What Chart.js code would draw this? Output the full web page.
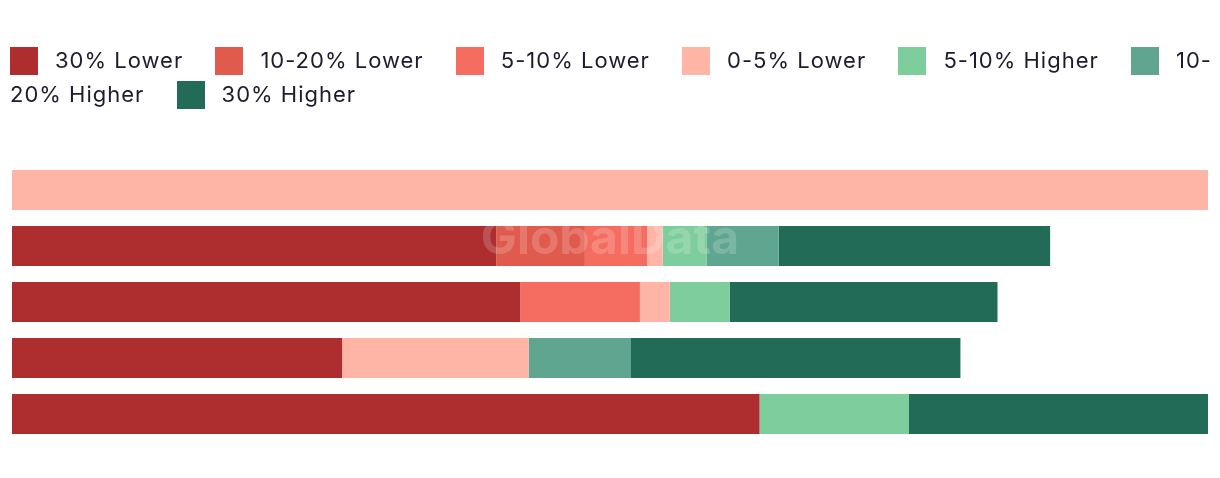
<!DOCTYPE html>
<html>
<head>
<meta charset="utf-8">
<script src="https://cdn.jsdelivr.net/npm/chart.js@4"></script>
<style>
    html, body { margin: 0; padding: 0; background: #fff; }
    #wrap { position: relative; width: 1220px; height: 478px; overflow: hidden; }
    #legend {
        position: absolute; left: 10px; top: 43px; width: 1210px;
        font-family: Inter, sans-serif; font-size: 22px; line-height: 34px;
        letter-spacing: 1px; color: #1c1c2e; z-index: 2;
    }
    #legend .sw {
        display: inline-block; width: 28px; height: 28px;
        vertical-align: middle; margin-right: 17px; position: relative; top: -1px;
    }
    #legend .it { margin-right: 25px; }
    #chartBox { position: absolute; left: 0; top: 0; width: 1220px; height: 478px; }
</style>
</head>
<body>
<div id="wrap">
    <div id="legend"></div>
    <div id="chartBox"><canvas id="chart"></canvas></div>
</div>
<script>
    // rows top to bottom
    const categories = ['Row 1', 'Row 2', 'Row 3', 'Row 4', 'Row 5']

    const seriesNames = ['30% Lower', '10-20% Lower', '5-10% Lower', '0-5% Lower', '5-10% Higher', '10-20% Higher', '30% Higher']
    const seriesColors = ['#ae2d2f', '#e05a4e', '#f46d60', '#ffb5a6', '#7ecd9c', '#5fa58f', '#216b57']

    const lower30 = [0, 40.5, 42.5, 27.6, 62.5]
    const lower10to20 = [0, 7.4, 0, 0, 0]
    const lower5to10 = [0, 5.2, 10.0, 0, 0]
    const lower0to5 = [100, 1.3, 2.5, 15.6, 0]
    const higher5to10 = [0, 3.7, 5.0, 0, 12.5]
    const higher10to20 = [0, 6.0, 0, 8.5, 0]
    const higher30 = [0, 22.7, 22.4, 27.6, 25.0]

    const seriesValues = [lower30, lower10to20, lower5to10, lower0to5, higher5to10, higher10to20, higher30]

    const watermark = {
        id: 'watermark',
        afterDatasetsDraw(chart) {
            const {ctx, chartArea} = chart
            ctx.save()
            ctx.font = 'bold 48px Inter, sans-serif'
            ctx.fillStyle = 'rgba(255,255,255,0.18)'
            ctx.textAlign = 'center'
            ctx.textBaseline = 'middle'
            ctx.fillText('GlobalData', (chartArea.left + chartArea.right) / 2, 240)
            ctx.restore()
        }
    }

    const buildLegend = () => {
        const el = document.getElementById('legend')
        el.innerHTML = seriesNames.map((name, i) =>
            `<span class="sw" style="background:${seriesColors[i]}"></span><span class="it">${name}</span> `
        ).join('')
    }

    const init = () => {
        buildLegend()

        const datasets = seriesNames.map((name, i) => ({
            label: name,
            data: seriesValues[i],
            backgroundColor: seriesColors[i],
            borderWidth: 0,
            barPercentage: 1,
            categoryPercentage: 40 / 56
        }))

        new Chart(document.getElementById('chart'), {
            type: 'bar',
            data: { labels: categories, datasets },
            options: {
                indexAxis: 'y',
                responsive: true,
                maintainAspectRatio: false,
                animation: false,
                layout: { padding: { left: 12, right: 12, top: 162, bottom: 36 } },
                plugins: {
                    legend: { display: false },
                    tooltip: { enabled: false }
                },
                scales: {
                    x: { stacked: true, min: 0, max: 100, display: false },
                    y: { stacked: true, display: false }
                }
            },
            plugins: [watermark]
        })
    }

    init()
</script>
</body>
</html>
